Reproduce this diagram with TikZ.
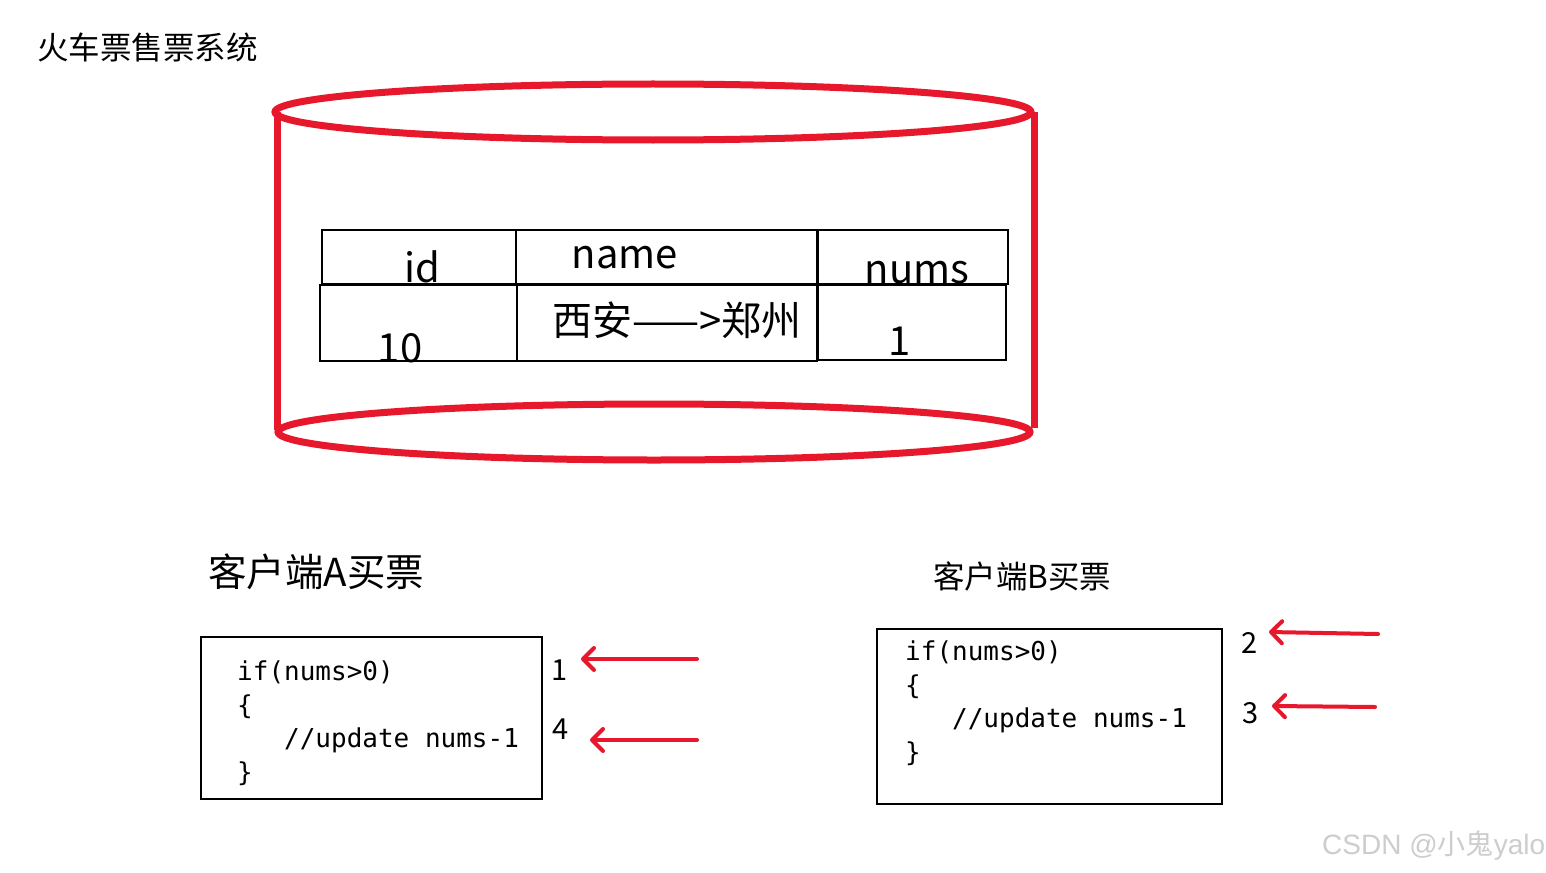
\documentclass[tikz,border=0pt]{standalone}
\usepackage{fontspec}
\setmainfont{Noto Sans CJK SC}
\newfontfamily\codefont{DejaVu Sans Mono}
\newfontfamily\wmfont{Liberation Sans}
\usetikzlibrary{arrows.meta}
\definecolor{cylred}{RGB}{232,24,44}
\definecolor{wmgray}{RGB}{205,205,205}
\tikzset{
  cyl/.style={draw=cylred, line width=7pt},
  cell/.style={draw=black, line width=2pt, inner sep=0pt},
  celltext/.style={inner sep=0pt, font=\fontsize{40}{40}\selectfont},
  codebox/.style={draw=black, line width=2pt, inner sep=0pt, anchor=north west},
  codetext/.style={inner sep=0pt, anchor=north west, align=left, font=\codefont\fontsize{26}{33.5}\selectfont},
  stepnum/.style={inner sep=0pt, font=\fontsize{29}{29}\selectfont},
  redarrow/.style={draw=cylred, line width=4pt, line cap=round, -{Straight Barb[length=11pt,width=22pt,round]}},
  heading/.style={inner sep=0pt, anchor=west},
}
\begin{document}
\begin{tikzpicture}[x=1pt,y=-1pt]
\fill[white] (0,0) rectangle (1546,872);
\useasboundingbox (0,0) rectangle (1546,872);

% title
\node[heading, font=\fontsize{31.5}{31.5}\selectfont] (title) at (37,47) {火车票售票系统};

% cylinder
\draw[cyl] (653,112) ellipse [x radius=378, y radius=28];
\draw[cyl] (654,432) ellipse [x radius=376, y radius=28];
\draw[cyl] (277,112) -- (277,430);
\draw[cyl] (1034,112) -- (1034,428);

% table
\node[cell, minimum width=194pt, minimum height=54pt] (idh) at (419,257) {};
\node[cell, minimum width=301pt, minimum height=54pt] (nameh) at (666.5,257) {};
\node[cell, minimum width=190pt, minimum height=54pt] (numsh) at (913,257) {};
\node[cell, minimum width=197pt, minimum height=76pt] (idv) at (418.5,323) {};
\node[cell, minimum width=300pt, minimum height=76pt] (namev) at (667,323) {};
\node[cell, minimum width=188pt, minimum height=75pt] (numsv) at (912,322.5) {};

\node[celltext, anchor=base] (tid) at (422,282) {id};
\node[celltext, anchor=base] (tname) at (625,268) {name};
\node[celltext, anchor=base] (tnums) at (917,283) {nums};
\node[celltext, anchor=base] (tten) at (400,362) {10};
\node[celltext] (troute) at (677,320) {西安——>郑州};
\node[celltext, anchor=base] (tone) at (900,355) {1};

% client headings
\node[heading, font=\fontsize{38.5}{38.5}\selectfont] (hA) at (208,572) {客户端A买票};
\node[heading, font=\fontsize{31.5}{31.5}\selectfont] (hB) at (933,576) {客户端B买票};

% code boxes
\node[codebox, minimum width=341pt, minimum height=162pt] (boxA) at (200,636) {};
\node[codetext] (codeA) at (237,661) {if(nums>0)\\\{\\\hphantom{xxx}//update nums-1\\\}};
\node[codebox, minimum width=345pt, minimum height=175pt] (boxB) at (876,628) {};
\node[codetext] (codeB) at (905,641) {if(nums>0)\\\{\\\hphantom{xxx}//update nums-1\\\}};

% step numbers
\node[stepnum] (n1) at (560,670) {1};
\node[stepnum] (n4) at (561,729) {4};
\node[stepnum] (n2) at (1250,643) {2};
\node[stepnum] (n3) at (1251,713) {3};

% arrows
\coordinate (a1s) at (697,659); \coordinate (a1e) at (581,659);
\coordinate (a4s) at (697,740); \coordinate (a4e) at (590,740);
\coordinate (a2s) at (1378,634); \coordinate (a2e) at (1269,632);
\coordinate (a3s) at (1375,707); \coordinate (a3e) at (1272,706);
\draw[redarrow] (a1s) -- (a1e);
\draw[redarrow] (a4s) -- (a4e);
\draw[redarrow] (a2s) -- (a2e);
\draw[redarrow] (a3s) -- (a3e);

% watermark
\node[inner sep=0pt, anchor=west, text=wmgray, font=\fontsize{28}{28}\selectfont] (wm) at (1322,846) {{\wmfont CSDN @}小鬼{\wmfont yalo}};
\end{tikzpicture}
\end{document}
